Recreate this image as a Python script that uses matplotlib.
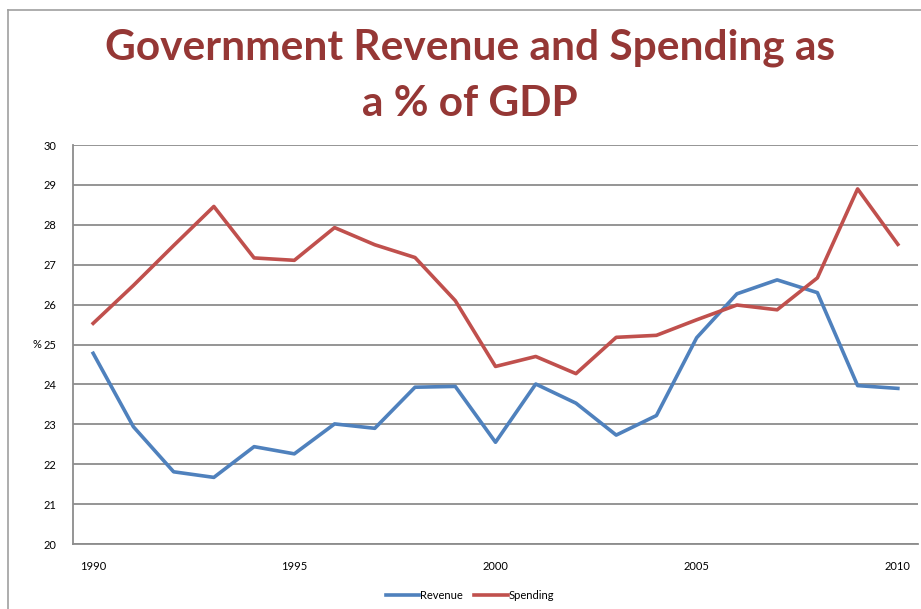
import numpy as np
import matplotlib.pyplot as plt
from matplotlib.lines import Line2D

years = list(range(1990, 2011))
revenue = [24.78, 22.94, 21.81, 21.67, 22.44, 22.26, 23.01, 22.90, 23.93, 23.95,
           22.55, 24.01, 23.53, 22.73, 23.22, 25.17, 26.27, 26.62, 26.30, 23.97, 23.90]
spending = [25.53, 26.48, 27.48, 28.46, 27.17, 27.11, 27.93, 27.50, 27.18, 26.10,
            24.45, 24.70, 24.27, 25.18, 25.23, 25.62, 25.99, 25.87, 26.67, 28.90, 27.51]
xticks = [1990, 1995, 2000, 2005, 2010]
yticks = list(range(20, 31))

plt.rcParams['font.family'] = ['Lato', 'DejaVu Sans']

fig = plt.figure(figsize=(9.21, 6.09), dpi=100)
ax = fig.add_axes([0.0793, 0.1067, 0.9174, 0.6552])

ax.plot(years, revenue, color='#4F81BD', lw=2.6, label='Revenue')
ax.plot(years, spending, color='#C0504D', lw=2.6, label='Spending')

ax.set_xlim(1989.5, 2010.5)
ax.set_ylim(20, 30)
ax.set_xticks(xticks)
ax.set_yticks(yticks)
ax.tick_params(axis='both', length=0, labelsize=8, colors='black')
ax.tick_params(axis='y', pad=12)
ax.tick_params(axis='x', pad=12)
ax.yaxis.grid(True, color='#8c8c8c', lw=1.3)
ax.set_axisbelow(True)
for s in ['top', 'right']:
    ax.spines[s].set_visible(False)
ax.spines['left'].set_color('#8c8c8c')
ax.spines['bottom'].set_color('#8c8c8c')
ax.spines['left'].set_linewidth(1.3)
ax.spines['bottom'].set_linewidth(1.3)

ax.set_ylabel('%', rotation=0, fontsize=8, va='center', ha='center')
ax.yaxis.set_label_coords(-0.043, 0.5)

fig.text(0.51, 0.921, 'Government Revenue and Spending as', ha='center', va='center',
         fontsize=30.5, fontweight='bold', color='#953735')
fig.text(0.51, 0.829, 'a % of GDP', ha='center', va='center',
         fontsize=30.5, fontweight='bold', color='#953735')

ax.legend(loc='upper center', bbox_to_anchor=(0.47, -0.09), ncol=2, frameon=False,
          fontsize=8, handlelength=3, handletextpad=0.1, columnspacing=1.0)

# chart area border
fig.add_artist(Line2D([8 / 921, 8 / 921], [0, 1 - 10 / 609], color='#a0a0a0', lw=1.2,
                      transform=fig.transFigure))
fig.add_artist(Line2D([8 / 921, 1], [1 - 10 / 609, 1 - 10 / 609], color='#a0a0a0', lw=1.2,
                      transform=fig.transFigure))

fig.savefig('out.png', dpi=100)
